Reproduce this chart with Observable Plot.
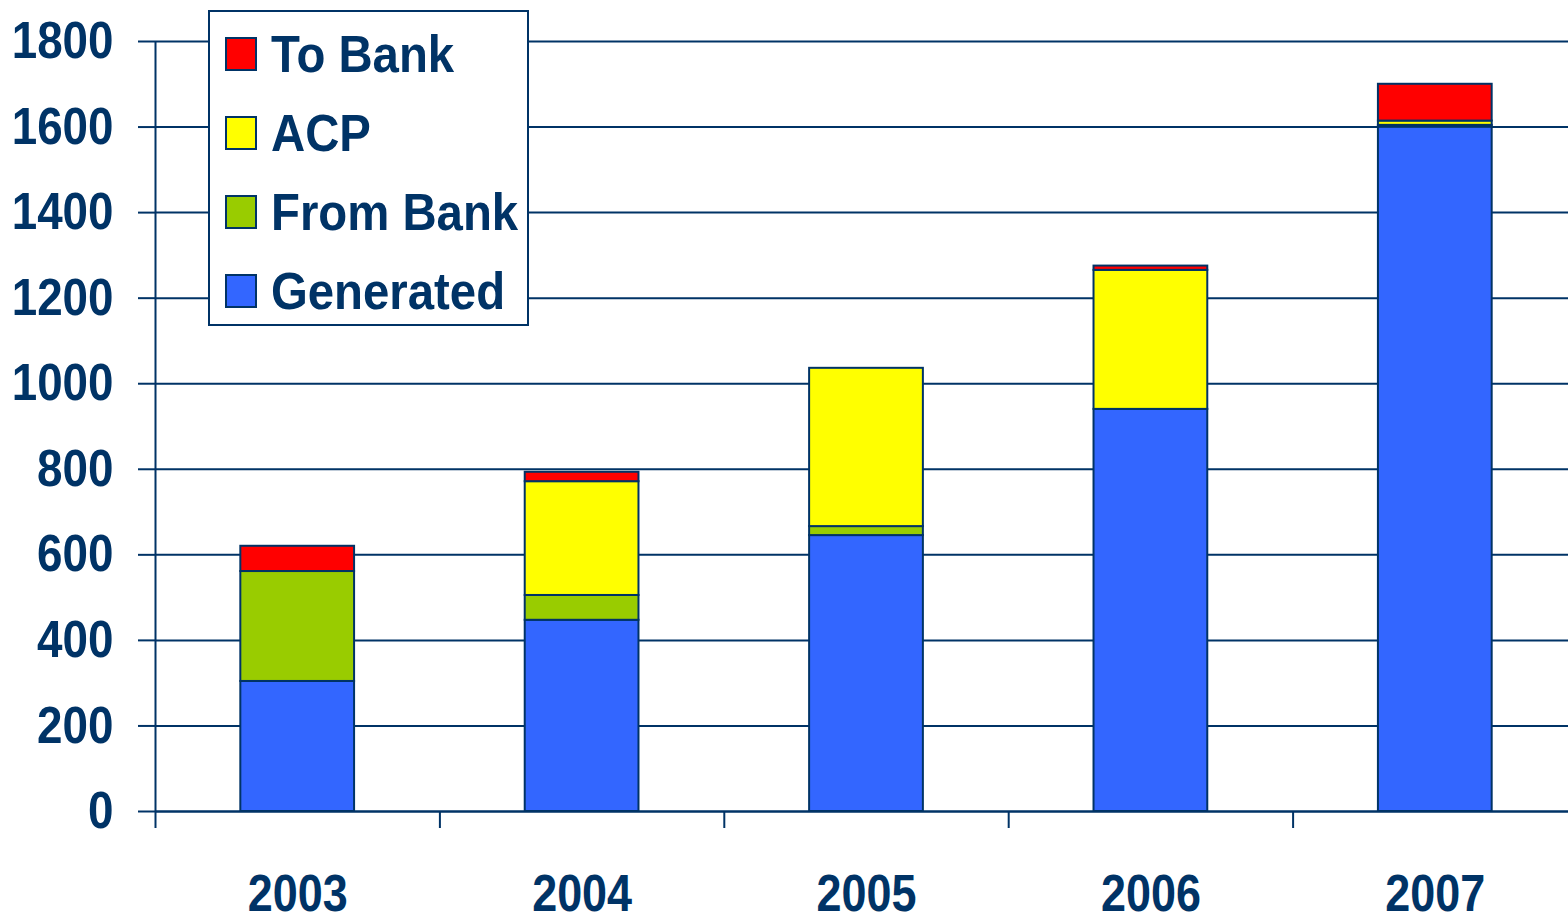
<!DOCTYPE html>
<html>
<head>
<meta charset="utf-8">
<script src="https://cdn.jsdelivr.net/npm/d3@7"></script>
<script src="https://cdn.jsdelivr.net/npm/@observablehq/plot@0.6"></script>
<style>
  body { margin: 0; background: #fff; overflow: hidden; }
  #wrap { position: relative; width: 1568px; height: 922px; }
  #legend {
    position: absolute; left: 208px; top: 10px; width: 317px; height: 312px;
    border: 2px solid #003366; background: #fff; box-sizing: content-box;
    font-family: "Liberation Sans", Arial, sans-serif;
    font-weight: bold; font-size: 52px; color: #003366;
  }
  .item { position: absolute; left: 0; height: 60px; display: flex; align-items: center; white-space: nowrap; }
  .sw { width: 28px; height: 30px; border: 2px solid #003366; margin-left: 15px; margin-right: 14px; flex: none; }
  .lbl { line-height: 1; transform: scaleX(0.91); transform-origin: left center; }
</style>
</head>
<body>
<div id="wrap"><div id="chart"></div><div id="legend"></div></div>
<script>
const years = ["2003", "2004", "2005", "2006", "2007"];
const seriesNames = ["Generated", "From Bank", "ACP", "To Bank"];
const seriesColors = ["#3366FF", "#99CC00", "#FFFF00", "#FF0000"];
const generated = [304, 447, 645, 940, 1600];
const fromBank  = [257, 58, 21, 0, 4];
const acp       = [0, 266, 370, 325, 10];
const toBank    = [59, 22, 0, 10, 86];
const yTicks = [0, 200, 400, 600, 800, 1000, 1200, 1400, 1600, 1800];

const navy = "#003366";
const font = '"Liberation Sans", Arial, sans-serif';
const seriesValues = [generated, fromBank, acp, toBank];

const rows = [];
years.forEach((yr, i) => {
  let cum = 0;
  seriesNames.forEach((s, k) => {
    const v = seriesValues[k][i];
    if (v > 0) rows.push({i, year: yr, series: s, y1: cum, y2: cum + v});
    cum += v;
  });
});
const bounds = d3.range(years.length + 1);
const centers = years.map((y, i) => i + 0.5);

const chart = Plot.plot({
  width: 1568, height: 922,
  marginTop: 41, marginBottom: 111, marginLeft: 155, marginRight: 0,
  style: {fontFamily: font, color: navy, background: "white", overflow: "hidden"},
  x: {type: "linear", domain: [0, years.length], range: [155, 1577]},
  y: {domain: [0, 1800], range: [811, 41]},
  color: {domain: seriesNames, range: seriesColors},
  marks: [
    Plot.gridY(yTicks, {stroke: navy, strokeOpacity: 1, strokeWidth: 2}),
    Plot.axisY(yTicks, {tickSize: 17, tickPadding: 25, tickFormat: d => String(d), fontSize: 52, fontWeight: "bold", strokeWidth: 2, label: null}),
    Plot.axisX(bounds, {tickSize: 17, tickFormat: () => "", strokeWidth: 2, label: null}),
    Plot.axisX(centers, {tickSize: 0, tickPadding: 63, tickFormat: d => years[Math.floor(d)], fontSize: 51, fontWeight: "bold", label: null}),
    Plot.ruleX([0], {stroke: navy, strokeWidth: 2}),
    Plot.ruleY([0], {stroke: navy, strokeWidth: 2}),
    Plot.rect(rows, {x1: d => d.i + 0.3, x2: d => d.i + 0.7, y1: "y1", y2: "y2", fill: "series", stroke: navy, strokeWidth: 2})
  ]
});
document.getElementById("chart").appendChild(chart);

// condense the bold labels to match the narrow face of the reference
chart.querySelectorAll("text").forEach(t => {
  const w = t.getComputedTextLength();
  if (w > 0) {
    t.setAttribute("textLength", (w * 0.88).toFixed(1));
    t.setAttribute("lengthAdjust", "spacingAndGlyphs");
  }
});

const legend = document.getElementById("legend");
const order = ["To Bank", "ACP", "From Bank", "Generated"];
order.forEach((name, j) => {
  const it = document.createElement("div");
  it.className = "item";
  it.style.top = (12 + j * 79) + "px";
  const sw = document.createElement("div");
  sw.className = "sw";
  sw.style.background = seriesColors[seriesNames.indexOf(name)];
  const lb = document.createElement("div");
  lb.className = "lbl";
  lb.textContent = name;
  it.appendChild(sw); it.appendChild(lb);
  legend.appendChild(it);
});
</script>
</body>
</html>
